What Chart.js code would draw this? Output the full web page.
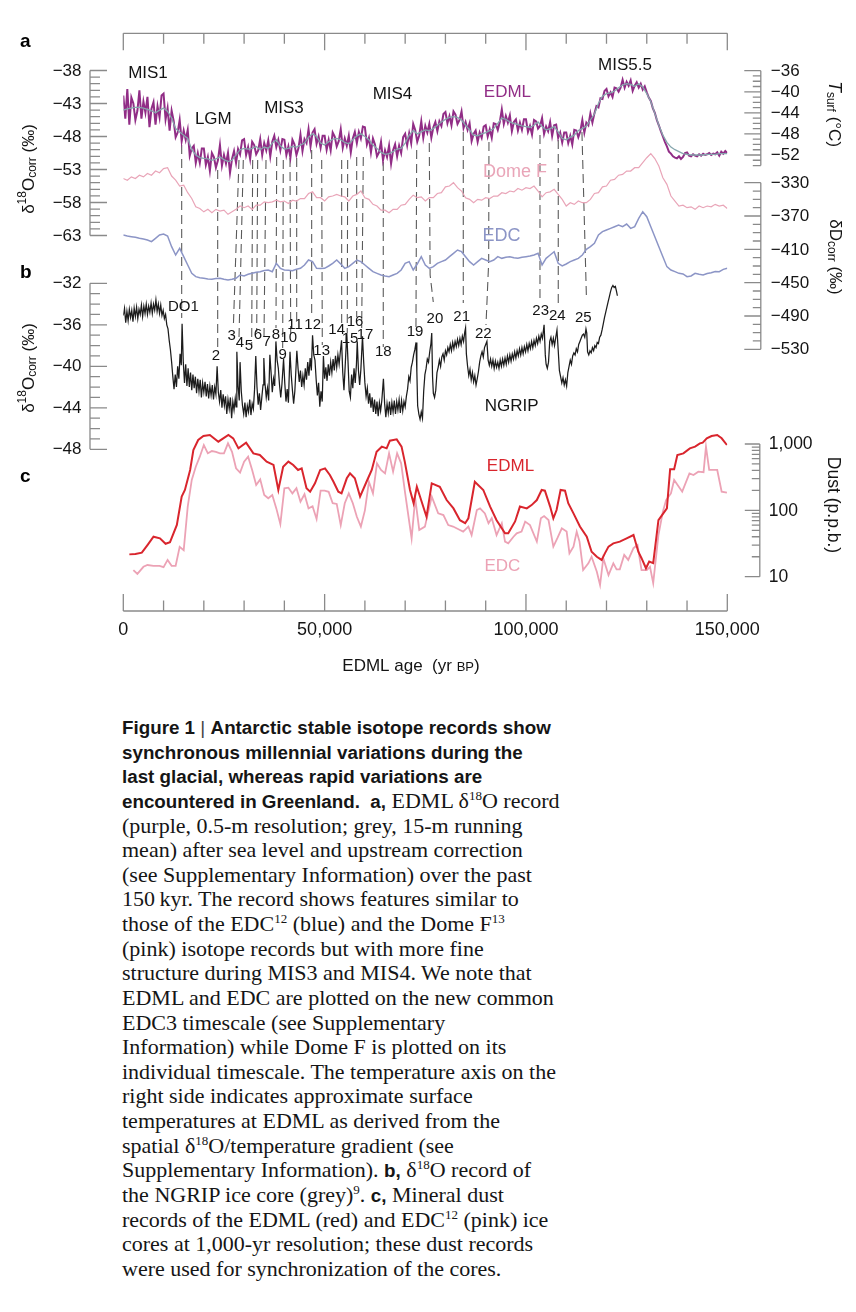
<!DOCTYPE html>
<html><head><meta charset="utf-8">
<script src="https://cdn.jsdelivr.net/npm/chart.js@4.4.1/dist/chart.umd.min.js"></script>
<style>
html,body{margin:0;padding:0;background:#fff;}
#wrap{position:relative;width:856px;height:1312px;overflow:hidden;}
#c{position:absolute;left:0;top:0;}
#cap{position:absolute;left:122px;top:715px;font-family:"Liberation Serif","Times New Roman",serif;font-size:22px;line-height:24.64px;color:#151515;white-space:nowrap;}
#cap .l{height:24.64px;}
#cap b{font-family:"Liberation Sans",Arial,sans-serif;font-size:18.8px;font-weight:bold;}
#cap .bar{font-family:"Liberation Sans",Arial,sans-serif;font-size:19px;font-weight:normal;color:#444;}
#cap sup{font-size:13px;line-height:0;vertical-align:8px;}
</style></head>
<body><div id="wrap">
<canvas id="c" width="856" height="700" style="width:856px;height:700px"></canvas>
<div id="cap">
<div class="l"><b>Figure 1</b><span class="bar"> | </span><b>Antarctic stable isotope records show</b></div>
<div class="l"><b>synchronous millennial variations during the</b></div>
<div class="l"><b>last glacial, whereas rapid variations are</b></div>
<div class="l"><b>encountered in Greenland.&nbsp; a,</b> EDML δ<sup>18</sup>O record</div>
<div class="l">(purple, 0.5-m resolution; grey, 15-m running</div>
<div class="l">mean) after sea level and upstream correction</div>
<div class="l">(see Supplementary Information) over the past</div>
<div class="l">150&#8201;kyr. The record shows features similar to</div>
<div class="l">those of the EDC<sup>12</sup> (blue) and the Dome F<sup>13</sup></div>
<div class="l">(pink) isotope records but with more fine</div>
<div class="l">structure during MIS3 and MIS4. We note that</div>
<div class="l">EDML and EDC are plotted on the new common</div>
<div class="l">EDC3 timescale (see Supplementary</div>
<div class="l">Information) while Dome F is plotted on its</div>
<div class="l">individual timescale. The temperature axis on the</div>
<div class="l">right side indicates approximate surface</div>
<div class="l">temperatures at EDML as derived from the</div>
<div class="l">spatial δ<sup>18</sup>O/temperature gradient (see</div>
<div class="l">Supplementary Information). <b>b,</b> δ<sup>18</sup>O record of</div>
<div class="l">the NGRIP ice core (grey)<sup>9</sup>. <b>c,</b> Mineral dust</div>
<div class="l">records of the EDML (red) and EDC<sup>12</sup> (pink) ice</div>
<div class="l">cores at 1,000-yr resolution; these dust records</div>
<div class="l">were used for synchronization of the cores.</div>
</div>
</div>
<script>
// ---------------- DATA (ages in kyr BP) ----------------
// EDML d18O raw (purple), every 0.5 kyr from 0 to 150 kyr
const edmlRawStep = 0.5;
const edmlRaw = [
-41.8,-45.3,-40.8,-46.2,-42.1,-43.0,-45.5,-44.1,-41.0,-45.3,
-42.7,-44.4,-42.0,-46.6,-43.8,-42.8,-46.2,-43.4,-45.1,-41.8,
-41.5,-45.4,-43.7,-47.1,-44.1,-45.6,-48.1,-47.4,-45.5,-48.7,
-47.1,-48.5,-47.0,-50.9,-49.8,-49.4,-52.0,-50.5,-52.0,-49.8,
-49.8,-52.3,-51.1,-53.2,-50.5,-51.1,-52.7,-51.6,-49.3,-52.4,
-50.8,-52.1,-50.5,-53.5,-51.4,-50.2,-52.0,-49.9,-50.7,-48.6,
-48.4,-50.8,-49.6,-51.4,-48.8,-49.3,-50.7,-50.1,-48.4,-50.8,
-49.0,-50.1,-48.6,-51.0,-48.8,-47.9,-49.6,-48.5,-50.1,-48.4,
-48.5,-50.8,-49.5,-51.2,-48.5,-49.2,-50.8,-49.8,-47.7,-50.2,
-48.4,-49.0,-46.9,-49.5,-47.4,-46.9,-49.1,-48.0,-49.7,-47.9,
-47.9,-50.0,-48.5,-50.1,-47.4,-48.0,-49.5,-48.7,-46.9,-49.7,
-48.3,-49.4,-47.9,-50.4,-48.3,-47.3,-49.0,-47.3,-48.3,-46.5,
-46.6,-49.2,-48.2,-50.4,-48.3,-49.2,-51.0,-50.4,-48.8,-51.6,
-50.1,-51.1,-49.4,-52.1,-50.1,-49.2,-51.0,-49.4,-50.5,-48.1,
-47.6,-49.3,-47.5,-49.0,-46.1,-47.0,-48.8,-47.8,-45.7,-48.2,
-46.4,-47.4,-46.1,-48.2,-46.6,-45.8,-47.2,-45.7,-46.4,-44.6,
-44.3,-46.0,-44.9,-46.3,-44.2,-44.7,-46.1,-45.5,-44.2,-46.7,
-45.8,-47.0,-46.0,-48.7,-47.6,-47.1,-48.8,-47.4,-48.2,-46.5,
-46.3,-48.0,-46.9,-48.2,-46.0,-46.1,-47.0,-45.8,-43.9,-46.1,
-44.9,-45.9,-44.8,-47.2,-45.8,-45.4,-47.1,-45.9,-47.0,-45.4,
-45.4,-47.3,-46.4,-47.7,-45.5,-45.7,-46.8,-46.4,-45.2,-47.6,
-46.5,-47.2,-45.8,-47.9,-46.3,-46.2,-48.2,-47.4,-48.9,-47.4,
-47.4,-49.0,-47.9,-49.2,-47.0,-47.1,-48.1,-47.2,-45.5,-47.4,
-45.9,-46.3,-44.5,-45.9,-44.5,-43.4,-43.6,-42.2,-42.3,-41.1,
-40.8,-41.9,-41.3,-42.0,-40.6,-40.7,-41.2,-40.6,-39.4,-40.6,
-39.7,-40.3,-39.5,-41.1,-40.3,-39.8,-40.6,-40.0,-40.9,-40.4,
-41.3,-42.1,-42.6,-43.7,-44.4,-45.5,-46.3,-47.2,-48.0,-48.8,
-49.5,-50.3,-50.6,-51.0,-51.2,-51.3,-51.0,-51.4,-51.1,-50.5,
-50.4,-50.9,-51.0,-50.7,-50.9,-51.0,-50.7,-50.9,-50.6,-50.8,
-50.7,-50.5,-50.8,-50.6,-50.7,-50.4,-50.9,-50.3,-50.6,-50.2,
-50.5];

// EDML 15-m running mean (grey), every 1 kyr
const edmlMeanStep = 1;
const edmlMean = [
-44.0,-43.8,-43.7,-43.6,-43.6,-43.7,-43.9,-44.1,-44.4,-44.0,
-43.7,-44.2,-45.2,-46.8,-47.3,-47.8,-48.3,-50.0,-50.8,-51.2,
-51.3,-51.4,-51.6,-51.4,-51.1,-51.5,-51.8,-51.6,-50.8,-50.0,
-49.8,-49.9,-49.8,-49.5,-50.0,-49.6,-49.8,-49.0,-48.5,-49.4,
-49.9,-49.8,-49.5,-49.6,-49.3,-49.0,-48.1,-47.6,-48.0,-49.0,
-49.3,-48.8,-48.4,-48.3,-48.5,-48.9,-49.1,-48.5,-47.9,-47.6,
-48.0,-48.5,-49.3,-49.8,-50.4,-50.7,-50.6,-50.3,-49.9,-49.8,
-49.0,-47.8,-47.1,-47.6,-47.3,-47.0,-47.1,-46.8,-46.3,-45.8,
-45.4,-45.1,-45.0,-45.1,-45.5,-46.3,-47.0,-47.8,-47.9,-47.6,
-47.4,-47.1,-46.8,-46.0,-45.2,-45.4,-45.8,-46.0,-46.2,-46.4,
-46.5,-46.6,-46.3,-45.8,-46.5,-47.0,-46.8,-46.5,-47.3,-48.3,
-48.5,-48.1,-47.8,-47.1,-46.8,-46.4,-45.5,-44.6,-43.0,-41.9,
-41.5,-41.4,-41.1,-40.6,-40.2,-40.0,-40.1,-40.4,-40.0,-40.5,
-41.5,-42.7,-44.5,-46.3,-47.8,-48.9,-49.6,-50.0,-50.3,-50.6,
-50.7,-50.8,-50.8,-50.8,-50.8,-50.7,-50.7,-50.7,-50.6,-50.6,-50.6];

// Dome F isotope record (pink), every 1 kyr, read on the dD scale
const domeFStep = 1;
const domeF = [
-325,-327,-323,-325,-321,-323,-319,-321,-316,-318,
-313,-312,-322,-327,-334,-333,-342,-349,-359,-361,
-365,-362,-366,-362,-364,-363,-368,-365,-362,-358,
-360,-358,-362,-357,-357,-353,-354,-353,-351,-353,
-352,-355,-351,-352,-349,-349,-343,-341,-348,-348,
-352,-347,-346,-344,-346,-347,-352,-346,-344,-340,
-348,-350,-356,-358,-363,-363,-366,-362,-362,-357,
-356,-350,-345,-348,-347,-352,-348,-348,-343,-342,
-335,-334,-330,-336,-340,-348,-350,-354,-350,-351,
-348,-349,-346,-346,-342,-343,-340,-341,-337,-339,
-336,-337,-334,-340,-347,-342,-341,-338,-344,-350,
-358,-354,-356,-352,-354,-354,-350,-343,-342,-335,
-334,-327,-326,-321,-320,-316,-316,-312,-312,-306,
-300,-295,-301,-310,-324,-332,-346,-352,-358,-357,
-360,-359,-362,-358,-360,-358,-359,-356,-358,-357,-361];

// EDC dD (blue), every 1 kyr
const edcStep = 1;
const edc = [
-392.8,-394.0,-394.8,-395.5,-396.8,-397.5,-398.8,-400.8,-396.8,-392.8,
-391.6,-394.0,-406.8,-416.8,-408.8,-418.8,-428.8,-438.8,-442.8,-444.0,
-444.8,-445.5,-446.0,-445.0,-444.8,-446.0,-446.8,-446.0,-444.8,-440.8,
-442.0,-440.0,-438.8,-437.5,-436.8,-435.5,-434.8,-436.8,-426.8,-432.8,
-434.8,-435.0,-435.6,-434.0,-432.8,-428.8,-422.8,-424.8,-432.8,-433.0,
-432.8,-430.0,-426.8,-422.8,-427.6,-432.8,-430.8,-426.8,-422.8,-424.8,
-428.8,-432.8,-436.8,-438.8,-440.8,-442.0,-442.8,-440.8,-438.8,-434.8,
-426.8,-424.8,-434.8,-427.6,-418.8,-428.8,-432.8,-430.8,-426.8,-424.8,
-422.8,-418.8,-414.8,-410.8,-412.8,-418.8,-424.8,-428.8,-424.8,-420.8,
-422.8,-424.8,-422.8,-418.8,-420.8,-419.5,-418.8,-420.0,-420.8,-419.5,
-418.8,-418.0,-416.8,-414.8,-428.8,-420.8,-416.8,-412.8,-426.8,-430.0,
-427.6,-424.8,-422.8,-420.8,-416.8,-410.0,-406.8,-402.8,-392.8,-388.8,
-386.8,-384.8,-382.8,-380.8,-382.8,-379.6,-384.8,-382.8,-372.8,-364.8,
-370.8,-382.8,-394.8,-406.8,-418.8,-430.8,-434.8,-436.8,-438.8,-439.6,
-442.8,-442.0,-438.8,-440.0,-440.8,-439.0,-438.0,-436.5,-436.8,-434.0,-432.8];

// NGRIP d18O (black): [age kyr, permil]
const ngrip = [
[0.0,-35.1],[0.3,-34.4],[0.6,-35.8],[0.9,-34.7],[1.2,-35.6],[1.5,-34.5],[1.8,-35.3],[2.1,-34.6],[2.4,-35.7],[2.7,-34.4],
[3.0,-35.2],[3.3,-34.3],[3.6,-35.4],[3.9,-34.5],[4.2,-35.0],[4.5,-34.1],[4.8,-35.2],[5.1,-34.2],[5.4,-34.9],[5.7,-34.0],
[6.0,-35.0],[6.3,-34.2],[6.6,-34.8],[6.9,-33.9],[7.2,-34.9],[7.5,-34.0],[7.8,-34.6],[8.1,-33.6],[8.4,-34.7],[8.7,-34.0],
[9.0,-34.9],[9.3,-34.1],[9.6,-35.1],[9.9,-34.6],[10.2,-35.4],[10.5,-35.0],[10.8,-36.0],[11.1,-36.4],[11.4,-37.5],[11.7,-38.4],
[12.0,-39.6],[12.3,-41.0],[12.6,-42.2],[12.9,-40.8],[13.2,-42.0],[13.5,-40.0],[13.8,-41.2],[14.1,-38.8],[14.4,-39.9],[14.6,-35.9],
[14.9,-39.6],[15.2,-41.6],[15.5,-39.8],[15.8,-41.9],[16.1,-40.2],[16.4,-42.0],[16.7,-40.6],[17.0,-42.3],[17.3,-40.8],[17.6,-42.1],
[17.9,-41.0],[18.2,-42.6],[18.5,-41.2],[18.8,-42.4],[19.1,-41.3],[19.4,-43.0],[19.7,-41.6],[20.0,-42.5],[20.3,-41.5],[20.6,-42.9],
[20.9,-41.7],[21.2,-43.1],[21.5,-41.9],[21.8,-42.8],[22.1,-41.8],[22.4,-43.2],[22.7,-42.0],[23.0,-42.7],[23.3,-40.0],[23.6,-42.5],
[23.9,-43.4],[24.2,-42.3],[24.5,-44.0],[24.8,-42.7],[25.1,-43.8],[25.4,-42.9],[25.7,-44.6],[26.0,-43.2],[26.3,-44.1],[26.6,-43.0],
[26.9,-45.0],[27.2,-43.4],[27.5,-44.2],[27.8,-43.1],[28.0,-43.9],[28.2,-38.6],[28.5,-41.9],[28.8,-43.3],[29.0,-39.6],[29.3,-42.4],
[29.6,-43.8],[29.9,-44.6],[30.2,-43.5],[30.5,-44.9],[30.8,-43.8],[31.1,-44.4],[31.4,-43.2],[31.7,-44.7],[32.0,-43.6],[32.3,-44.1],
[32.6,-42.2],[32.9,-39.0],[33.2,-42.0],[33.5,-43.7],[33.8,-42.6],[34.1,-44.2],[34.4,-43.0],[34.7,-41.8],[34.9,-39.2],[35.2,-41.7],
[35.5,-43.0],[35.8,-42.1],[36.1,-43.3],[36.4,-38.9],[36.7,-40.6],[37.0,-42.5],[37.3,-41.2],[37.6,-41.9],[37.9,-37.6],[38.2,-39.4],
[38.5,-40.2],[38.8,-41.8],[39.1,-43.0],[39.4,-41.7],[39.8,-39.3],[40.1,-41.6],[40.4,-43.4],[40.7,-42.2],[41.0,-43.5],[41.4,-38.6],
[41.7,-40.8],[42.0,-42.3],[42.3,-43.6],[42.6,-42.4],[43.1,-38.5],[43.4,-40.2],[43.7,-41.5],[44.0,-40.4],[44.3,-42.0],[44.6,-40.9],
[44.9,-41.8],[45.2,-40.2],[45.5,-41.3],[45.8,-39.6],[46.1,-40.9],[46.4,-39.2],[46.7,-40.4],[47.0,-37.0],[47.3,-38.9],[47.6,-39.4],
[47.9,-41.3],[48.2,-42.8],[48.5,-41.6],[48.8,-43.9],[49.1,-42.4],[49.4,-43.4],[49.7,-39.0],[50.0,-41.2],[50.3,-40.1],[50.6,-41.4],
[50.9,-39.8],[51.2,-40.9],[51.5,-39.6],[51.8,-40.6],[52.1,-39.3],[52.4,-40.4],[52.7,-39.0],[53.0,-40.1],[53.3,-38.9],[53.6,-39.8],
[53.9,-38.6],[54.2,-37.5],[54.5,-40.6],[54.8,-42.3],[55.1,-40.0],[55.5,-36.8],[55.8,-39.5],[56.1,-42.4],[56.4,-43.0],[56.7,-40.8],
[57.0,-42.1],[57.3,-40.2],[57.6,-41.6],[57.9,-39.8],[58.1,-37.6],[58.4,-40.4],[58.7,-41.8],[59.0,-40.3],[59.4,-37.1],[59.7,-39.6],
[60.0,-41.6],[60.3,-42.9],[60.6,-42.1],[60.9,-43.6],[61.2,-42.6],[61.5,-44.0],[61.8,-43.0],[62.1,-44.4],[62.4,-43.2],[62.7,-44.6],
[63.0,-43.4],[63.3,-44.8],[63.6,-43.5],[63.9,-44.3],[64.2,-43.3],[64.6,-41.2],[64.9,-43.6],[65.2,-44.9],[65.5,-43.6],[65.8,-44.5],
[66.1,-43.4],[66.4,-44.7],[66.7,-43.5],[67.0,-44.4],[67.3,-43.3],[67.6,-44.6],[67.9,-43.4],[68.2,-44.2],[68.5,-43.2],[68.8,-44.5],
[69.1,-43.3],[69.4,-44.3],[69.7,-43.4],[70.0,-43.9],[70.3,-42.9],[70.6,-42.2],[70.9,-41.0],[71.2,-41.4],[71.5,-40.1],[71.8,-39.6],
[72.1,-38.9],[72.4,-38.4],[72.7,-37.7],[72.9,-40.5],[73.1,-43.8],[73.4,-44.6],[73.7,-45.1],[74.0,-44.4],[74.3,-45.0],[74.6,-42.4],
[74.9,-40.8],[75.2,-40.2],[75.5,-39.3],[75.8,-39.6],[76.1,-38.6],[76.4,-37.8],[76.6,-36.8],[76.8,-41.0],[77.0,-42.6],[77.3,-43.0],
[77.6,-42.3],[77.9,-40.6],[78.2,-40.1],[78.5,-39.4],[78.8,-40.0],[79.1,-39.1],[79.4,-38.8],[79.7,-39.4],[80.0,-38.5],[80.3,-38.9],
[80.6,-38.2],[80.9,-38.6],[81.2,-37.9],[81.5,-38.5],[81.8,-37.7],[82.1,-38.3],[82.4,-37.6],[82.7,-38.1],[83.0,-37.4],[83.3,-38.0],
[83.6,-37.3],[83.9,-37.9],[84.2,-37.1],[84.5,-37.6],[84.8,-36.7],[85.0,-36.3],[85.2,-38.8],[85.5,-40.0],[85.8,-40.9],[86.1,-40.3],
[86.4,-41.3],[86.7,-40.6],[87.0,-41.5],[87.3,-40.9],[87.6,-41.8],[87.9,-41.2],[88.2,-40.5],[88.5,-39.6],[88.8,-39.0],[89.1,-38.6],
[89.4,-39.1],[89.7,-38.2],[90.0,-37.9],[90.3,-37.6],[90.6,-39.4],[90.9,-39.9],[91.2,-39.3],[91.5,-40.0],[91.8,-39.4],[92.1,-40.2],
[92.4,-39.5],[92.7,-40.1],[93.0,-39.6],[93.3,-40.2],[93.6,-39.4],[93.9,-40.0],[94.2,-39.3],[94.5,-39.9],[94.8,-39.2],[95.1,-39.8],
[95.4,-39.0],[95.7,-39.6],[96.0,-38.9],[96.3,-39.5],[96.6,-38.8],[96.9,-39.3],[97.2,-38.6],[97.5,-39.2],[97.8,-38.5],[98.1,-39.0],
[98.4,-38.3],[98.7,-38.9],[99.0,-38.2],[99.3,-38.8],[99.6,-38.1],[99.9,-38.6],[100.2,-37.9],[100.5,-38.5],[100.8,-37.8],[101.1,-38.3],
[101.4,-37.6],[101.7,-38.2],[102.0,-37.5],[102.3,-38.0],[102.6,-37.3],[102.9,-37.8],[103.2,-37.1],[103.5,-37.6],[103.8,-36.9],[104.1,-37.3],
[104.5,-36.0],[104.8,-38.9],[105.0,-39.8],[105.3,-40.2],[105.6,-39.6],[105.9,-37.6],[106.2,-37.2],[106.5,-37.9],[106.8,-37.3],[107.1,-38.0],
[107.4,-37.2],[107.7,-36.5],[108.0,-38.4],[108.3,-40.4],[108.6,-41.0],[108.9,-41.6],[109.2,-41.1],[109.5,-41.8],[109.8,-41.3],[110.1,-41.9],
[110.4,-40.6],[110.7,-40.0],[111.0,-39.4],[111.3,-39.8],[111.6,-39.0],[111.9,-38.7],[112.2,-38.9],[112.5,-38.3],[112.8,-38.6],[113.1,-37.9],
[113.4,-37.6],[113.7,-37.3],[114.0,-37.0],[114.3,-36.9],[114.6,-37.2],[114.9,-36.4],[115.1,-36.8],[115.3,-38.6],[115.6,-38.9],[115.9,-38.5],
[116.2,-38.7],[116.5,-38.2],[116.8,-38.5],[117.1,-38.0],[117.4,-38.2],[117.7,-37.7],[118.0,-37.8],[118.3,-37.2],[118.6,-37.0],[118.9,-36.5],
[119.2,-35.9],[119.5,-35.3],[119.8,-34.8],[120.1,-34.3],[120.4,-33.8],[120.7,-33.3],[121.0,-32.8],[121.3,-32.4],[121.6,-32.2],[121.9,-32.4],
[122.2,-32.3],[122.5,-32.8],[122.7,-33.2]];

// Mineral dust, p.p.b.: [age kyr, value]
const dustEdml = [
[1.5,21.7],[3,22],[4.6,23],[6,30],[7.5,40.1],[9.1,37.9],[10.5,31.4],[11.6,33.2],[13.3,60.3],[14.5,161],
[15.3,203],[16.6,406],[17.4,812],[18.6,1149],[19.9,1320],[21.5,1367],[23.6,1083],[26.1,1367],[27.3,1218],[28.6,860],
[30.5,1047],[32.3,723],[33.9,683],[35.6,542],[37.3,483],[38.5,203],[39.7,455],[41.0,542],[42.2,483],[43.4,406],
[44.3,430],[45.5,215],[46.4,191],[47.6,255],[48.9,406],[50.1,430],[51.3,341],[52.2,270],[53.4,191],[54.2,180],
[55.5,304],[56.3,361],[57.5,304],[58.8,161],[60.4,270],[61.7,406],[62.9,766],[64.2,912],[65.4,860],[66.2,1122],
[67.9,1175],[69.1,912],[69.9,542],[71.2,203],[72.1,128],[72.9,227],[74.1,135],[75.3,80],[76.6,255],[78.6,227],
[80.3,143],[82.0,107],[83.6,71],[84.9,64],[85.7,76],[87.3,270],[89.4,203],[91.1,114],[92.7,71],[94.8,45],
[95.6,45],[97.3,68],[98.5,114],[100.2,107],[101.4,120],[102.7,143],[103.9,203],[104.7,198],[106.0,114],[106.8,76],
[107.6,101],[108.6,203],[109.7,198],[110.5,128],[111.8,90],[113.4,57],[115.1,40],[116.3,23.8],[117.6,20],[118.8,17.9],
[119.6,22.5],[120.5,28.4],[121.7,31.8],[123.3,33.8],[125.0,37.9],[126.7,42.5],[127.9,23.8],[128.7,19],[129.8,13.4],[130.6,16.9],
[131.6,16],[132.9,71],[135.0,107],[135.8,415],[136.8,415],[137.6,683],[139.1,723],[140.7,860],[142.0,912],[143.2,1023],
[143.9,1047],[144.9,1218],[146.1,1320],[147.5,1367],[148.6,1218],[149.9,966]];
const dustEdc = [
[2.5,12.6],[3.5,11],[5,14.1],[6,15],[7.5,14.6],[9,14.6],[10,13.9],[11,17.9],[12,14.6],[13,14.6],
[14,28.2],[15,25],[16,114],[17,287],[18,455],[19,644],[20,966],[21,723],[22,784],[23,760],
[24,723],[25,723],[26,1023],[27,760],[28,430],[29,370],[30,542],[31,644],[32,406],[33,241],
[34,293],[35,170],[36,152],[37,170],[38,107],[39,62],[40,215],[41,220],[42,180],[43,215],
[44,135],[45,175],[46,107],[47,115],[48,74],[49,198],[50,198],[51,190],[52,128],[53,125],
[54,60],[55,128],[56,180],[57,128],[58,80],[59,57],[60,100],[61,270],[62,180],[63,511],
[64,406],[65,361],[66,723],[67,383],[68,723],[69,511],[70,180],[71.6,37.8],[72.5,152],[73.5,50.7],
[74.9,56.8],[76.6,161],[78.2,90],[79.5,85],[80.7,60],[81.9,57],[83.6,50.6],[84.4,47.8],[85.7,56.8],[86.5,42.5],
[87.8,101],[88.6,107],[89.8,90],[90.7,64],[91.5,76],[92.7,42.5],[94.0,64],[94.8,33.8],[95.6,31.9],[96.9,40],
[97.7,45],[98.9,47.8],[99.8,67.6],[101.0,60],[102.7,33.8],[103.7,76],[104.5,82],[105.6,71.6],[106.8,28.4],[107.8,38],
[108.9,53.6],[110.1,47.8],[110.8,22.5],[111.8,28.4],[112.6,47.8],[113.3,33.8],[114.2,12.6],[115.5,15.9],[116.3,20],[117.6,11.9],
[118.4,7.5],[119.2,19],[120.5,10.6],[121.7,15.9],[122.5,12.9],[123.3,12.9],[124.4,21.3],[125.4,17.9],[126.7,26.9],[127.7,30.1],
[128.7,12.6],[130.0,12.6],[130.8,14.1],[131.6,8.0],[132.9,42.5],[134.0,95.5],[134.8,143],[136.0,180],[136.8,287],[138.8,191],
[140.6,361],[141.6,341],[142.8,383],[144.1,375],[144.7,913],[145.5,406],[146.5,406],[147.5,406],[148.6,191],[149.9,185]];

// Tie lines (dashed) from Antarctic features to Greenland events: [age kyr, NGRIP-scale permil]
const tieLines = [
[[14.50,-18.67],[14.50,-35.34]],
[[23.44,-21.08],[23.44,-38.24]],
[[28.73,-20.12],[27.32,-36.31]],
[[29.80,-20.12],[28.73,-37.27]],
[[32.13,-20.12],[31.88,-37.95]],
[[33.37,-20.12],[33.13,-36.69]],
[[35.44,-20.12],[34.94,-37.18]],
[[38.09,-19.83],[37.92,-36.31]],
[[39.73,-20.12],[39.58,-38.24]],
[[41.40,-19.93],[41.57,-36.79]],
[[43.06,-19.93],[43.06,-35.54]],
[[46.78,-19.15],[46.78,-35.34]],
[[49.27,-20.12],[49.42,-37.95]],
[[54.23,-20.12],[54.23,-36.21]],
[[55.72,-20.12],[55.62,-36.79]],
[[57.96,-19.83],[57.96,-35.25]],
[[59.60,-19.83],[59.20,-36.31]],
[[64.56,-20.31],[64.56,-38.14]],
[[72.86,-19.15],[72.68,-36.21]],
[[75.99,-18.48],[76.20,-31.20],[76.98,-33.80]],
[[84.43,-17.42],[84.43,-33.90]],
[[90.81,-18.38],[90.74,-29.95],[90.07,-36.02]],
[[103.48,-17.71],[103.48,-33.80]],
[[108.02,-18.19],[108.02,-34.28]],
[[113.90,-17.42],[115.02,-33.42]]];

// Greenland event numbers: [label, age, NGRIP permil]
const doLabels = [
['DO1',14.9,-34.26],['2',23.02,-39.01],['3',26.92,-37.08],['4',28.98,-37.73],['5',31.21,-38.04],
['6',33.45,-36.98],['7',35.61,-37.63],['8',37.92,-36.98],['9',39.58,-38.91],['10',41.07,-37.30],
['11',42.64,-36.02],['12',47.03,-36.02],['13',49.27,-38.50],['14',52.99,-36.50],['15',56.30,-37.40],
['16',57.54,-35.76],['17',60.02,-36.98],['18',64.56,-38.59],['19',72.44,-36.67],['20',77.40,-35.47],
['21',84.03,-35.28],['22',89.40,-36.89],['23',103.65,-34.64],['24',107.77,-35.15],['25',114.23,-35.37]];
// Stage labels on the EDML scale: [label, age, permil]
const stageLabels = [['MIS1',6.13,-38.45],['LGM',22.35,-45.35],['MIS3',39.9,-43.68],['MIS4',66.85,-41.56],['MIS5.5',124.6,-37.17]];

// Axis ticks
const xMajorTicks = [0,50,100,150];
const xTickLabels = ['0','50,000','100,000','150,000'];
const xMinorStep = 10;
const aTicks = [-38,-43,-48,-53,-58,-63];
const bTicks = [-32,-36,-40,-44,-48];
const tTicks = [-36,-40,-44,-48,-52];
const dTicks = [-330,-370,-410,-450,-490,-530];
const dustTicks = [10,100,1000];
const dustTickLabels = ['10','100','1,000'];

// ---------------- LAYOUT ----------------
const FONT = '"Liberation Sans", Arial, Helvetica, sans-serif';
const AXIS = '#8a8a8a', INK = '#141414';
const C_PURPLE = '#912d86', C_GREY = '#86a6ad', C_DOMEF = '#e9a5b8', C_EDC = '#8c95c6',
      C_NGRIP = '#1c1c1c', C_RED = '#d9252d', C_PINK = '#eca2b5', C_TIE = '#5a5a5a';
const AREA = {left: 123.3, right: 727.3, top: 33.3, bottom: 611};
const H = 700;
function band(vTop, pTop, vBot, pBot) {
  const s = (pBot - pTop) / (vTop - vBot);
  return {min: vBot - (AREA.bottom - pBot) / s, max: vTop + (pTop - AREA.top) / s};
}
function logBand(vTop, pTop, vBot, pBot) {
  const b = band(Math.log10(vTop), pTop, Math.log10(vBot), pBot);
  return {min: Math.pow(10, b.min), max: Math.pow(10, b.max)};
}
const series = (arr, step) => arr.map((v, i) => ({x: i * step, y: v}));
const pairs = arr => arr.map(p => ({x: p[0], y: p[1]}));

function rich(c, x, y, rot, parts) {
  c.save(); c.translate(x, y); c.rotate(rot);
  let tot = 0;
  parts.forEach(p => { c.font = p.f; tot += c.measureText(p.t).width; });
  let cx = -tot / 2;
  c.textAlign = 'left'; c.textBaseline = 'middle';
  parts.forEach(p => { c.font = p.f; c.fillStyle = p.c || INK; c.fillText(p.t, cx, p.dy || 0); cx += c.measureText(p.t).width; });
  c.restore();
}
function range(a, b, step) { const r = []; for (let v = a; v <= b + 1e-9; v += step) r.push(+v.toFixed(6)); return r; }

function vAxis(c, sc, xLine, dir, majors, minors, majLen, minLen, labels, labelX, align, font) {
  const all = majors.concat(minors);
  const ys = all.map(v => sc.getPixelForValue(v));
  c.beginPath();
  c.moveTo(xLine, Math.min(...ys)); c.lineTo(xLine, Math.max(...ys));
  minors.forEach(v => { const y = sc.getPixelForValue(v); c.moveTo(xLine, y); c.lineTo(xLine + dir * minLen, y); });
  majors.forEach(v => { const y = sc.getPixelForValue(v); c.moveTo(xLine, y); c.lineTo(xLine + dir * majLen, y); });
  c.stroke();
  c.save(); c.fillStyle = INK; c.font = font; c.textAlign = align; c.textBaseline = 'middle';
  majors.forEach((v, i) => c.fillText(labels[i], labelX, sc.getPixelForValue(v) + 0.5));
  c.restore();
}

const figPlugin = {
  id: 'fig',
  afterDraw(chart) {
    const c = chart.ctx, S = chart.scales, X = S.x, A = chart.chartArea;
    c.save();
    c.strokeStyle = AXIS; c.lineWidth = 1.3;
    // top and bottom age axes
    const xMinor = range(0, 150, xMinorStep).filter(v => !xMajorTicks.includes(v));
    const xl = X.getPixelForValue(0), xr = X.getPixelForValue(150);
    c.beginPath();
    [[A.top, 1], [A.bottom, -1]].forEach(([yy, d]) => {
      c.moveTo(xl, yy); c.lineTo(xr, yy);
      xMinor.forEach(v => { const p = X.getPixelForValue(v); c.moveTo(p, yy); c.lineTo(p, yy + d * 10.5); });
      xMajorTicks.forEach(v => { const p = X.getPixelForValue(v); c.moveTo(p, yy); c.lineTo(p, yy + d * 17); });
    });
    c.stroke();
    c.fillStyle = INK; c.font = '18px ' + FONT; c.textAlign = 'center'; c.textBaseline = 'middle';
    xMajorTicks.forEach((v, i) => c.fillText(xTickLabels[i], X.getPixelForValue(v), A.bottom + 19));
    // x title
    rich(c, 411, 666, 0, [{t: 'EDML age  (yr ', f: '17px ' + FONT}, {t: 'BP', f: '13px ' + FONT, dy: 1}, {t: ')', f: '17px ' + FONT}]);

    const fTick = '17px ' + FONT;
    const lx = A.left - 33.3, rx = A.right + 33.5;
    // left axes
    vAxis(c, S.yA, lx, 1, aTicks, range(-63, -38, 1).filter(v => !aTicks.includes(v)), 17, 10,
      aTicks.map(v => '\u2212' + Math.abs(v)), lx - 8.5, 'right', fTick);
    vAxis(c, S.yB, lx, 1, bTicks, range(-48, -32, 1).filter(v => !bTicks.includes(v)), 17, 10,
      bTicks.map(v => '\u2212' + Math.abs(v)), lx - 8.5, 'right', fTick);
    // right axes
    vAxis(c, S.yT, rx, -1, tTicks, range(-54, -36, 1).filter(v => !tTicks.includes(v)), 16.5, 8,
      tTicks.map(v => '\u2212' + Math.abs(v)), rx + 10, 'left', fTick);
    vAxis(c, S.yD, rx, -1, dTicks, range(-530, -330, 10).filter(v => !dTicks.includes(v)), 16.5, 8,
      dTicks.map(v => '\u2212' + Math.abs(v)), rx + 10, 'left', fTick);
    const dMinor = [20,30,40,50,60,70,80,90,200,300,400,500,600,700,800,900];
    vAxis(c, S.yDust, rx - 1, -1, dustTicks, dMinor, 15, 8, dustTickLabels, rx + 8, 'left', '17.5px ' + FONT);

    // axis titles
    const f17 = '17px ' + FONT, f12 = '12px ' + FONT;
    const d18 = [{t: '\u03b4', f: f17}, {t: '18', f: f12, dy: -6}, {t: 'O', f: f17}, {t: 'corr', f: f12, dy: 4}, {t: ' (\u2030)', f: f17}];
    rich(c, 29, 169, -Math.PI / 2, d18);
    rich(c, 29, 368, -Math.PI / 2, d18);
    rich(c, 834, 114, Math.PI / 2, [{t: 'T', f: 'italic 18px ' + FONT}, {t: 'surf', f: f12, dy: 4}, {t: ' (\u00b0C)', f: f17}]);
    rich(c, 835, 257, Math.PI / 2, [{t: '\u03b4D', f: f17}, {t: 'corr', f: f12, dy: 4}, {t: ' (\u2030)', f: f17}]);
    rich(c, 833, 505, Math.PI / 2, [{t: 'Dust (p.p.b.)', f: '17.5px ' + FONT}]);

    // panel letters
    c.fillStyle = '#000'; c.font = 'bold 19px ' + FONT; c.textAlign = 'left'; c.textBaseline = 'alphabetic';
    c.fillText('a', 20, 47); c.fillText('b', 20, 277.5); c.fillText('c', 20, 482);

    // stage labels
    c.textAlign = 'center'; c.textBaseline = 'middle';
    c.font = '17px ' + FONT; c.fillStyle = INK;
    stageLabels.forEach(([t, a, v]) => c.fillText(t, X.getPixelForValue(a), S.yA.getPixelForValue(v)));
    // record labels
    c.fillStyle = C_PURPLE; c.fillText('EDML', X.getPixelForValue(95.4), S.yA.getPixelForValue(-41.26));
    c.fillStyle = C_DOMEF; c.font = '18px ' + FONT; c.fillText('Dome F', X.getPixelForValue(97.3), S.yD.getPixelForValue(-316.6));
    c.fillStyle = C_EDC; c.fillText('EDC', X.getPixelForValue(93.9), S.yD.getPixelForValue(-394.0));
    c.font = '17px ' + FONT;
    c.fillStyle = INK; c.fillText('NGRIP', X.getPixelForValue(96.45), S.yB.getPixelForValue(-43.89));
    c.fillStyle = C_RED; c.fillText('EDML', X.getPixelForValue(96.15), S.yDust.getPixelForValue(466));
    c.fillStyle = C_PINK; c.fillText('EDC', X.getPixelForValue(94.16), S.yDust.getPixelForValue(14.2));
    // DO numbers
    c.font = '15px ' + FONT; c.fillStyle = INK;
    doLabels.forEach(([t, a, v]) => c.fillText(t, X.getPixelForValue(a), S.yB.getPixelForValue(v)));
    c.restore();
  }
};

const lineDs = (data, axis, color, width, extra) => Object.assign({
  data, yAxisID: axis, borderColor: color, borderWidth: width, pointRadius: 0, fill: false, tension: 0
}, extra || {});

const datasets = [
  lineDs(series(edmlMean, edmlMeanStep), 'yA', C_GREY, 1.3),
  lineDs(series(edmlRaw, edmlRawStep), 'yA', C_PURPLE, 2.0),
  lineDs(series(domeF, domeFStep), 'yD', C_DOMEF, 1.2),
  lineDs(series(edc, edcStep), 'yD', C_EDC, 1.5),
  lineDs(pairs(ngrip), 'yB', C_NGRIP, 1.25),
  lineDs(pairs(dustEdml), 'yDust', C_RED, 2),
  lineDs(pairs(dustEdc), 'yDust', C_PINK, 1.8)
].concat(tieLines.map(t => lineDs(pairs(t), 'yB', C_TIE, 1.1, {borderDash: [9, 5]})));

new Chart(document.getElementById('c'), {
  type: 'line',
  data: {datasets},
  options: {
    responsive: false, animation: false, events: [],
    layout: {padding: {left: AREA.left, right: 856 - AREA.right, top: AREA.top, bottom: H - AREA.bottom}},
    plugins: {legend: {display: false}, tooltip: {enabled: false}},
    scales: {
      x: {type: 'linear', min: 0, max: 150, display: false, bounds: 'data'},
      yA: Object.assign({type: 'linear', display: false, bounds: 'data'}, band(-38, 70.5, -63, 235.5)),
      yT: Object.assign({type: 'linear', display: false, bounds: 'data'}, band(-36, 70.7, -52, 155)),
      yD: Object.assign({type: 'linear', display: false, bounds: 'data'}, band(-330, 182.7, -530, 349.3)),
      yB: Object.assign({type: 'linear', display: false, bounds: 'data'}, band(-32, 283.3, -48, 449.3)),
      yDust: Object.assign({type: 'logarithmic', display: false}, logBand(1000, 444, 10, 576.7))
    }
  },
  plugins: [figPlugin]
});
</script>
</body></html>
